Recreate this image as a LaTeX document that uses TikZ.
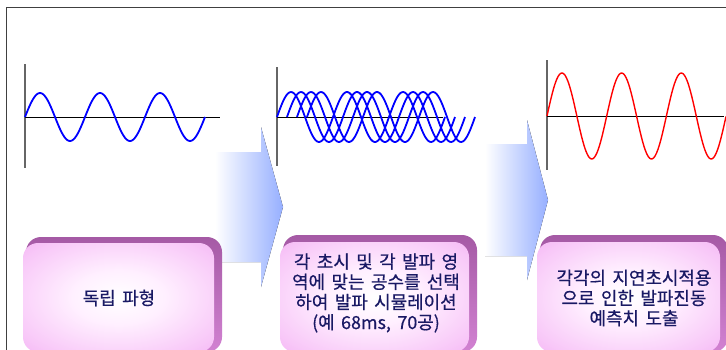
\documentclass[tikz,border=0pt]{standalone}
\usepackage{fontspec}
\newfontfamily\kr[WordSpace=1.6,FakeBold=0.5]{Noto Sans CJK KR}
\definecolor{arrowblue}{RGB}{150,175,255}
\definecolor{pinkedge}{RGB}{240,160,240}
\definecolor{pinkmid}{RGB}{248,200,248}
\definecolor{pinkin}{RGB}{255,240,255}
\definecolor{bevel}{RGB}{210,130,210}
\definecolor{beveltop}{RGB}{165,90,165}
\definecolor{navy}{RGB}{25,25,100}
\pgfdeclareradialshading{boxface}{\pgfpoint{0bp}{0bp}}{color(0bp)=(white); color(12bp)=(pinkin); color(30bp)=(pinkmid); color(45bp)=(pinkedge); color(50bp)=(pinkedge)}
\tikzset{
  frameline/.style={draw=black!75, line width=1.5bp},
  haxis/.style={draw=black, line width=0.9bp},
  vaxis/.style={draw=black!60, line width=1.1bp},
  bluewave/.style={draw=blue, line width=1.8bp},
  redwave/.style={draw=red, line width=1.4bp},
  flowarrow/.style={left color=white, right color=arrowblue, draw=none},
  bevelbox/.style={top color=beveltop, bottom color=bevel, draw=none, rounded corners=15bp},
  facebox/.style={shading=boxface, draw=none, rounded corners=15bp},
  boxtext/.style={font=\kr\fontsize{18}{20.3}\selectfont, text=navy, align=center, inner sep=0pt},
}
\begin{document}
\begin{tikzpicture}[x=1bp,y=-1bp]
\useasboundingbox (0,0) rectangle (726,349);
\clip (0,0) rectangle (726,349);
\fill[white] (0,0) rectangle (726,349);
% frame
\draw[frameline] (6.5,360) -- (6.5,7.5) -- (730,7.5);
% panel 1
\draw[vaxis] (25,64) -- (25,168);
\draw[haxis] (25,117) -- (220,117);
\draw[bluewave] plot[domain=0:180, samples=120, smooth] ({25+\x},{117-24*sin(6*\x)});
% panel 2
\draw[vaxis] (277,67) -- (277,166);
\draw[haxis] (277,117) -- (443,117);
\foreach \s in {0,10,20,30}
  \draw[bluewave] plot[domain=0:168, samples=110, smooth] ({277+\s+\x},{117-25*sin(360/56*\x)});
% panel 3
\draw[vaxis] (547,60) -- (547,170);
\draw[haxis] (547,116) -- (724,116);
\draw[redwave] plot[domain=0:179, samples=130, smooth] ({547+\x},{116-43*sin(360/59.7*\x)});
% arrows
\fill[flowarrow] (215,152) -- (261,152) -- (261,127) -- (283,207) -- (261,287) -- (261,262) -- (215,262) -- cycle;
\fill[flowarrow] (485,144) -- (527,144) -- (527,120) -- (548,200) -- (527,280) -- (527,256) -- (485,256) -- cycle;
% boxes
\shade[bevelbox] (26,237) rectangle (222,352);
\shade[facebox] (23,243) rectangle (214,352);
\shade[bevelbox] (283,235) rectangle (477,352);
\shade[facebox] (280,242) rectangle (469,352);
\shade[bevelbox] (540,235) rectangle (728,352);
\shade[facebox] (537,242) rectangle (720,352);
% texts
\node[boxtext] (t1) at (119,298) {독립 파형};
\node[boxtext] (t2) at (376,293) {각 초시 및 각 발파 영\\역에 맞는 공수를 선택\\하여 발파 시뮬레이션\\(예 68ms, 70공)};
\node[boxtext] (t3) at (634,298) {각각의 지연초시적용\\으로 인한 발파진동\\예측치 도출};
\end{tikzpicture}
\end{document}
